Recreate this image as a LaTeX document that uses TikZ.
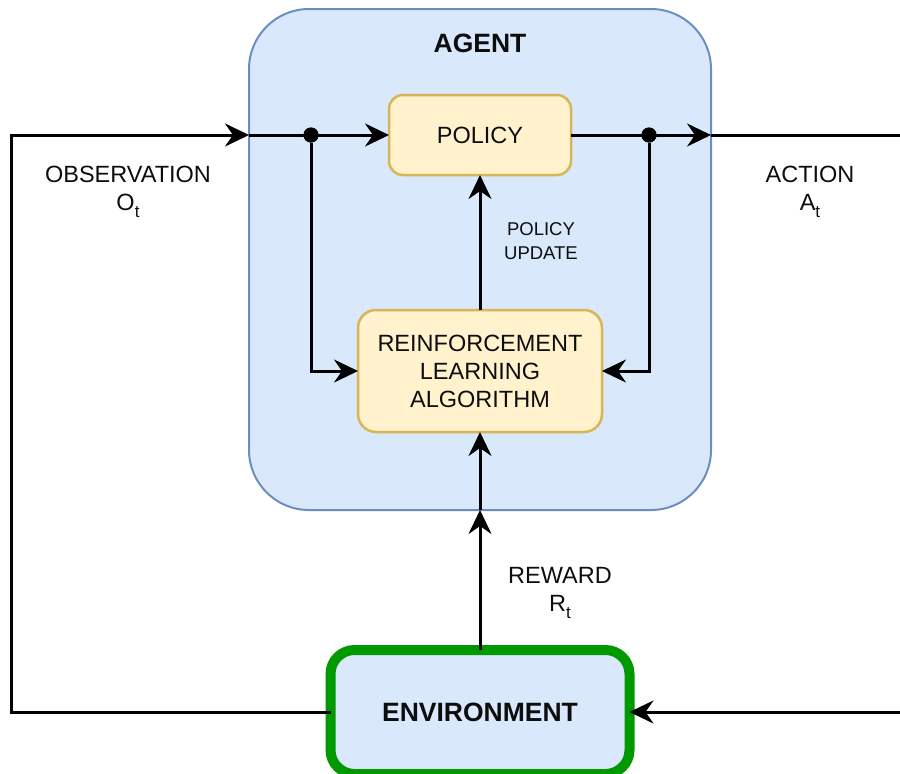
\documentclass[tikz,border=0pt]{standalone}
\usepackage{fontspec}
\setmainfont{Liberation Sans}
\usetikzlibrary{arrows.meta}
\definecolor{agentfill}{HTML}{DAE8FC}
\definecolor{agentdraw}{HTML}{6C8EBF}
\definecolor{boxfill}{HTML}{FFF2CC}
\definecolor{boxdraw}{HTML}{D6B656}
\definecolor{envdraw}{HTML}{009900}
\definecolor{ink}{HTML}{0D0D0D}
\newcommand{\subtee}{\raisebox{-7pt}{\fontsize{17}{17}\selectfont t}}
\begin{document}
\begin{tikzpicture}[x=1pt,y=-1pt,
  txt/.style={text=ink,font=\fontsize{23.5}{28}\selectfont,align=center,inner sep=0pt},
  smalltxt/.style={text=ink,font=\fontsize{18.5}{24}\selectfont,align=center,inner sep=0pt},
  boldtxt/.style={text=ink,font=\bfseries\fontsize{26.5}{30}\selectfont,inner sep=0pt},
  agentbox/.style={draw=agentdraw,fill=agentfill,line width=2pt,rounded corners=60pt,outer sep=0pt,inner sep=0pt},
  yellowbox/.style={draw=boxdraw,fill=boxfill,line width=2.5pt,outer sep=0pt,inner sep=0pt,text=ink,font=\fontsize{23.5}{28}\selectfont,align=center},
  envbox/.style={draw=envdraw,fill=agentfill,line width=10pt,rounded corners=24pt,outer sep=0pt,inner sep=0pt,text=ink,font=\bfseries\fontsize{26.5}{30}\selectfont},
  flow/.style={draw=black,line width=3pt,line join=miter,-{Stealth[length=24pt,width=23pt,inset=8pt]}},
  dot/.style={circle,fill=black,inner sep=0pt,minimum size=15pt}
]
\useasboundingbox (0,0) rectangle (900,774);

% boxes
\node[agentbox,minimum width=462pt,minimum height=501pt] (agent) at (480,259.5) {};
\node[yellowbox,rounded corners=14pt,minimum width=182pt,minimum height=80pt] (policy) at (480,135) {POLICY};
\node[yellowbox,rounded corners=18pt,minimum width=244pt,minimum height=122pt] (rl) at (480,371) {REINFORCEMENT\\LEARNING\\ALGORITHM};
\node[envbox,minimum width=299pt,minimum height=124pt] (env) at (480,712) {ENVIRONMENT};

% labels
\node[boldtxt,anchor=base] (agentlabel) at (480,52) {AGENT};
\node[txt] (obslabel) at (128,192) {OBSERVATION\\O\subtee};
\node[txt] (actlabel) at (810,192) {ACTION\\A\subtee};
\node[smalltxt] (updlabel) at (541,241.5) {POLICY\\UPDATE};
\node[txt] (rewlabel) at (560,593) {REWARD\\R\subtee};

% junction dots and corners
\node[dot] (dotL) at (311,135) {};
\node[dot] (dotR) at (649,135) {};
\coordinate (cornerL) at (11,135);
\coordinate (cornerR) at (915,135);

% observation path
\draw[flow] (env.west) -| (cornerL) -- (agent.west |- cornerL);
\draw[flow] (agent.west |- cornerL) -- (policy.west);
\draw[flow] (dotL) |- (rl.west);

% action path
\draw[flow] (policy.east) -- (agent.east |- policy.east);
\draw[flow] (agent.east |- policy.east) -- (cornerR) |- (env.east);
\draw[flow] (dotR) |- (rl.east);

% policy update
\draw[flow] (rl.north) -- (policy.south);

% reward
\draw[flow] (env.north) -- (agent.south);
\draw[flow] (agent.south) -- (rl.south);

\node[dot] at (dotL) {};
\node[dot] at (dotR) {};
\end{tikzpicture}
\end{document}
